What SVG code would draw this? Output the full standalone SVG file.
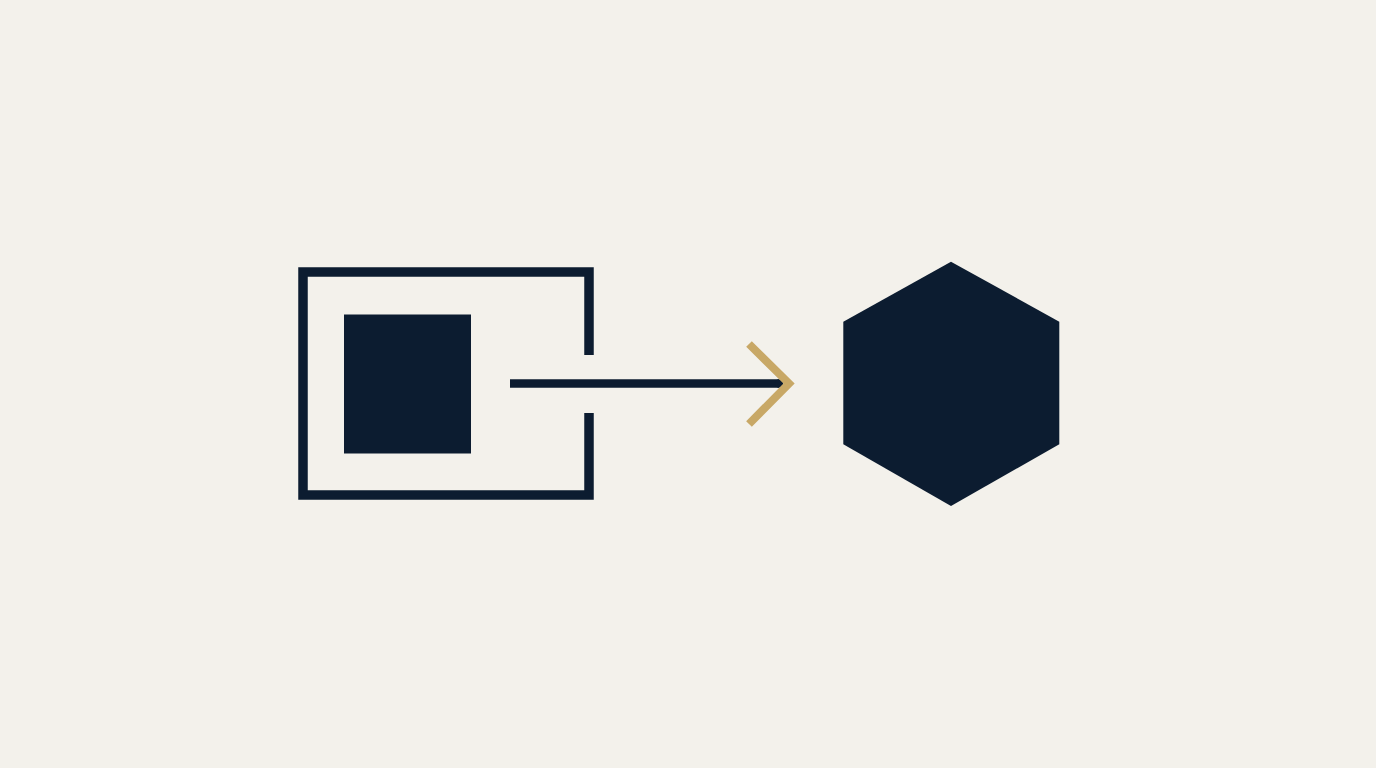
<svg xmlns="http://www.w3.org/2000/svg" width="1376" height="768" viewBox="0 0 1376 768">
<style>
.dk{fill:#0c1c30}
.fr{fill:none;stroke:#0c1c30;stroke-width:9.5;stroke-linecap:butt}
.ln{fill:none;stroke:#0c1c30;stroke-width:8.5;stroke-linecap:butt}
.ch{fill:none;stroke:#c8a866;stroke-width:8;stroke-linecap:butt}
</style>
<rect width="1376" height="768" fill="#f3f1eb"/>
<g id="source">
<path class="fr" d="M589,355 V272 H303 V495 H589 V413"/>
<rect class="dk" x="344" y="314.5" width="127" height="139"/>
</g>
<g id="target">
<polygon class="dk" points="951,261.7 1059.3,321.7 1059.3,444.3 951,506 843.3,444.3 843.3,321.7"/>
</g>
<g id="connectors">
<path class="ln" d="M510,383.5 H779"/>
<circle class="dk" cx="779" cy="383.5" r="4.25"/>
<path class="ch" d="M749,344 L789,383.5 L749,424"/>
</g>
</svg>
